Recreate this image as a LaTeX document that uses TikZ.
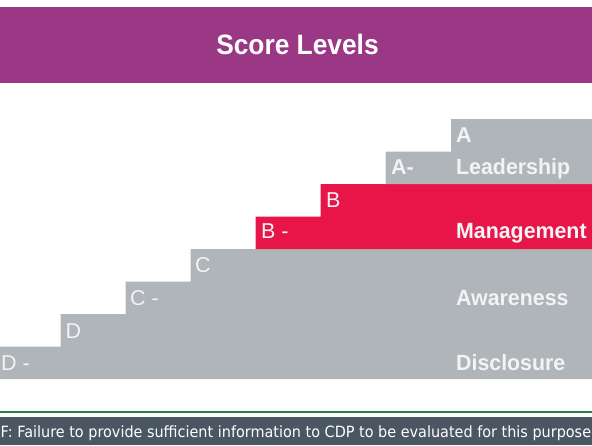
\documentclass[tikz,border=0pt]{standalone}
\usepackage{fontspec}
\setmainfont{Liberation Sans}
\newfontfamily\barfont[FakeStretch=0.93]{DejaVu Sans}
\newfontfamily\titlefont[FakeStretch=0.94]{Liberation Sans}
\newfontfamily\catfont[FakeStretch=0.97]{Liberation Sans}
\definecolor{hdrpurple}{HTML}{9A3886}
\definecolor{stepred}{HTML}{E81648}
\definecolor{stepgrey}{HTML}{B0B5BA}
\definecolor{bardark}{HTML}{4A5661}
\definecolor{bargreen}{HTML}{2A7A4C}
\definecolor{labelwhite}{HTML}{F2F3F5}
\tikzset{
  lvl/.style={anchor=base west, inner sep=0pt, text=labelwhite, font=\fontsize{21.5}{22}\selectfont},
  lvlb/.style={lvl, font=\fontsize{21.5}{22}\selectfont\bfseries},
  cat/.style={anchor=base west, inner sep=0pt, text=labelwhite, font=\catfont\fontsize{22}{22}\selectfont\bfseries},
}
\begin{document}
\begin{tikzpicture}[x=1pt,y=-1pt]
\useasboundingbox (0,0) rectangle (592,445);
% header
\fill[hdrpurple] (0,7.3) rectangle (592,82.7);
\node[anchor=base, inner sep=0pt, text=white, font=\titlefont\fontsize{28}{28}\selectfont\bfseries] (title) at (297.5,54) {Score Levels};
% grey staircase (lower part: D- .. C)
\fill[stepgrey] (0,379) -- (0,346.5) -- (60.5,346.5) -- (60.5,314) -- (125.5,314) -- (125.5,281.5) -- (190.5,281.5) -- (190.5,249) -- (592,249) -- (592,379) -- cycle;
% red band (B- .. B)
\fill[stepred] (255.5,249) -- (255.5,216.5) -- (320.5,216.5) -- (320.5,184) -- (592,184) -- (592,249) -- cycle;
% grey top (A- .. A)
\fill[stepgrey] (385.5,184) -- (385.5,151.5) -- (451,151.5) -- (451,119) -- (592,119) -- (592,184) -- cycle;
% letter labels
\node[lvl] (dm) at (1,370.5) {D -};
\node[lvl] (d) at (65.5,338) {D};
\node[lvl] (cm) at (130,305.5) {C -};
\node[lvl] (c) at (195,272.5) {C};
\node[lvl] (bm) at (261,238.5) {B -};
\node[lvl] (b) at (326,207) {B};
\node[lvlb] (am) at (391,174) {A-};
\node[lvlb] (a) at (456,142) {A};
% category labels
\node[cat] (lead) at (456,174) {Leadership};
\node[cat] (mgmt) at (456,238.5) {Management};
\node[cat] (aware) at (456,305.5) {Awareness};
\node[cat] (discl) at (456,370.5) {Disclosure};
% bottom bar
\fill[bargreen] (0,410.8) rectangle (592,413.4);
\fill[bardark] (0,416.5) rectangle (592,445);
\begin{scope}
\clip (0,416.5) rectangle (592,445);
\node[anchor=base west, inner sep=0pt, text=white, font=\barfont\fontsize{15.5}{16}\selectfont] (fail) at (0.5,437) {F: Failure to provide sufficient information to CDP to be evaluated for this purpose};
\end{scope}
\end{tikzpicture}
\end{document}
